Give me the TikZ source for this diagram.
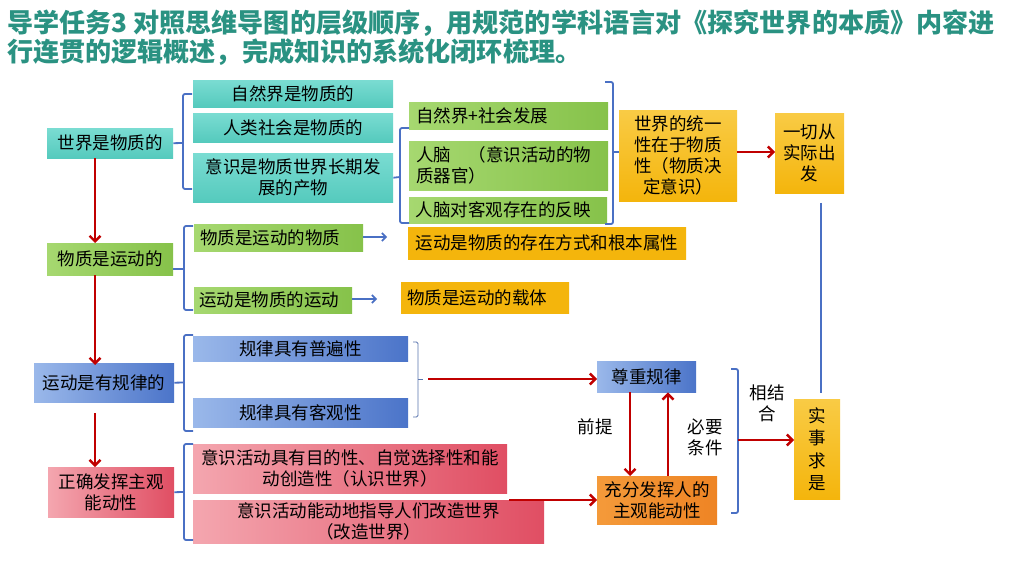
\documentclass[tikz,border=0pt]{standalone}
\usepackage{fontspec}
\setmainfont{Noto Sans CJK SC}
\usetikzlibrary{arrows.meta,calc}
\definecolor{ttl}{HTML}{2A9282}
\definecolor{tealA}{HTML}{7ADCD2}
\definecolor{tealB}{HTML}{55CABD}
\definecolor{grnA}{HTML}{A6D870}
\definecolor{grnB}{HTML}{86C24A}
\definecolor{bluA}{HTML}{9AB8EA}
\definecolor{bluB}{HTML}{4B74C9}
\definecolor{pnkA}{HTML}{F4A6AF}
\definecolor{pnkB}{HTML}{E04E63}
\definecolor{ylwA}{HTML}{F9CB45}
\definecolor{ylwB}{HTML}{F4B50C}
\definecolor{orgA}{HTML}{F49A3A}
\definecolor{orgB}{HTML}{EE8424}
\definecolor{arrred}{HTML}{C00000}
\definecolor{brk}{HTML}{4A70C4}
\tikzset{
  bx/.style={rectangle, inner sep=0pt, anchor=north west, align=center,
    font=\fontsize{17.5}{21}\selectfont},
  tealbox/.style={bx, top color=tealA, bottom color=tealB},
  grnbox/.style={bx, left color=grnA, right color=grnB},
  blubox/.style={bx, left color=bluA, right color=bluB},
  pnkbox/.style={bx, left color=pnkA, right color=pnkB},
  ylwbox/.style={bx, top color=ylwA, bottom color=ylwB},
  orgbox/.style={bx, left color=orgA, right color=orgB},
  redarr/.style={draw=arrred, line width=2.4pt, -{Straight Barb[length=5.5pt,width=11pt,line width=2.4pt]}},
  bluarr/.style={draw=brk, line width=1.6pt, -{Straight Barb[length=4pt,width=8pt,line width=1.6pt]}},
  brkline/.style={draw=brk, line width=1.8pt, rounded corners=2pt},
  thinbrk/.style={draw=brk!70!gray, line width=0.8pt, rounded corners=1.5pt},
  lbl/.style={font=\fontsize{17.5}{21}\selectfont, align=center, inner sep=0pt}
}
\begin{document}
\begin{tikzpicture}[x=1pt,y=-1pt]
\useasboundingbox (0,0) rectangle (1015,564);
\fill[white] (0,0) rectangle (1015,564);
% title
\node[anchor=north west, inner sep=0pt, align=left, text=ttl,
  font=\fontsize{26.1}{28.5}\selectfont\bfseries] (title) at (7,10)
  {导学任务3 对照思维导图的层级顺序，用规范的学科语言对《探究世界的本质》内容进\\行连贯的逻辑概述，完成知识的系统化闭环梳理。};
% left column
\node[tealbox, minimum width=126, minimum height=30] (A1) at (47,128) {世界是物质的};
\node[grnbox, minimum width=126, minimum height=32] (A2) at (47,243) {物质是运动的};
\node[blubox, minimum width=140, minimum height=39] (A3) at (34,363) {运动是有规律的};
\node[pnkbox, minimum width=126, minimum height=50] (A4) at (48,467) {正确发挥主观\\能动性};
% teal column
\node[tealbox, minimum width=200, minimum height=27] (T1) at (193,80) {自然界是物质的};
\node[tealbox, minimum width=200, minimum height=29] (T2) at (193,113) {人类社会是物质的};
\node[tealbox, minimum width=200, minimum height=49] (T3) at (193,153) {意识是物质世界长期发\\展的产物};
% green column
\node[grnbox, minimum width=199, minimum height=27, align=left, text width=185] (G1) at (409,102) {自然界+社会发展};
\node[grnbox, minimum width=199, minimum height=49, align=left, text width=185] (G2) at (409,141) {人脑\quad（意识活动的物\\质器官）};
\node[grnbox, minimum width=198, minimum height=26, align=left, text width=185] (G3) at (409,197) {人脑对客观存在的反映};
% yellow boxes top right
\node[ylwbox, minimum width=118, minimum height=91] (Y1) at (619,110) {世界的统一\\性在于物质\\性（物质决\\定意识）};
\node[ylwbox, minimum width=69, minimum height=80] (Y2) at (775,113) {一切从\\实际出\\发};
% row 2
\node[grnbox, minimum width=169, minimum height=27, align=left, text width=157] (M1) at (194,224) {物质是运动的物质};
\node[ylwbox, top color=ylwB, bottom color=ylwB, minimum width=278, minimum height=32] (O1) at (408,227) {运动是物质的存在方式和根本属性};
\node[grnbox, minimum width=158, minimum height=26, align=left, text width=148] (M2) at (194,287) {运动是物质的运动};
\node[ylwbox, top color=ylwB, bottom color=ylwB, minimum width=168, minimum height=31, align=left, text width=156] (O2) at (401,282) {物质是运动的载体};
% row 3
\node[blubox, minimum width=215, minimum height=25] (B1) at (193,336) {规律具有普遍性};
\node[blubox, minimum width=215, minimum height=29] (B2) at (193,398) {规律具有客观性};
% row 4
\node[pnkbox, minimum width=314, minimum height=49] (P1) at (193,444) {意识活动具有目的性、自觉选择性和能\\动创造性（认识世界）};
\node[pnkbox, minimum width=351, minimum height=43] (P2) at (193,500) {意识活动能动地指导人们改造世界\\（改造世界）};
% right part
\node[blubox, minimum width=99, minimum height=31] (R1) at (597,361) {尊重规律};
\node[orgbox, minimum width=120, minimum height=48] (R2) at (597,476) {充分发挥人的\\主观能动性};
\node[ylwbox, minimum width=46, minimum height=100, font=\fontsize{17.5}{22.5}\selectfont] (S) at (794,399) {实\\事\\求\\是};
% labels
\node[lbl] (L1) at (595,427) {前提};
\node[lbl] (L2) at (705,437) {必要\\条件};
\node[lbl] (L3) at (767,403) {相结\\合};
% coordinates
\coordinate (cx) at (95,0);
\coordinate (a3s) at (95,413);
% vertical red arrows
\draw[redarr] (A1.south -| cx) -- (A2.north -| cx);
\draw[redarr] (A2.south -| cx) -- ([yshift=-2pt]A3.north -| cx);
\draw[redarr] (a3s) -- (A4.north -| cx);
% brackets
\draw[brkline] (192,94) -- (183,94) -- (183,189) -- (192,189);
\draw[brkline] (A1.east) -- (183,143);
\draw[brkline] (409,128) -- (400,128) -- (400,223) -- (409,223);
\draw[brkline] (T3.east) -- (400,177);
\draw[brkline] (605,82) -- (613,82) -- (613,224) -- (605,224);
\draw[brkline] (613,152) -- (Y1.west |- 0,152);
\draw[brkline] (193,226) -- (184,226) -- (184,310) -- (193,310);
\draw[brkline] (A2.east |- 0,269) -- (184,269);
\draw[brkline] (193,335) -- (184,335) -- (184,431) -- (193,431);
\draw[brkline] (A3.east) -- (184,382.5);
\draw[brkline] (193,444) -- (184,444) -- (184,540) -- (193,540);
\draw[brkline] (A4.east) -- (184,492);
\draw[thinbrk] (413,342) -- (418,342) -- (418,417) -- (413,417);
\draw[thinbrk] (418,379) -- (423,379);
\draw[brkline] (731,369) -- (738,369) -- (738,513) -- (731,513);
% blue arrows
\coordinate (m1e) at (387,237);
\coordinate (m2e) at (377,299);
\draw[bluarr] (M1.east |- m1e) -- (m1e);
\draw[bluarr] (M2.east |- m2e) -- (m2e);
% red arrows right part
\coordinate (b3) at (428,379);
\draw[redarr] (b3) -- (R1.west |- b3);
\coordinate (p2s) at (509,500);
\draw[redarr] (p2s) -- (R2.west |- p2s);
\coordinate (d1) at (630,0);
\coordinate (d2) at (668,0);
\draw[redarr] (R1.south -| d1) -- (R2.north -| d1);
\draw[redarr] (R2.north -| d2) -- (R1.south -| d2);
\draw[redarr] (Y1.east |- 0,152) -- (Y2.west |- 0,152);
\coordinate (rb) at (738,440);
\draw[redarr] (rb) -- (S.west |- rb);
% blue line from Y2 to S
\coordinate (vl) at (821,203);
\draw[draw=brk, line width=1.8pt] (vl) -- (vl |- 0,393);
\end{tikzpicture}
\end{document}
